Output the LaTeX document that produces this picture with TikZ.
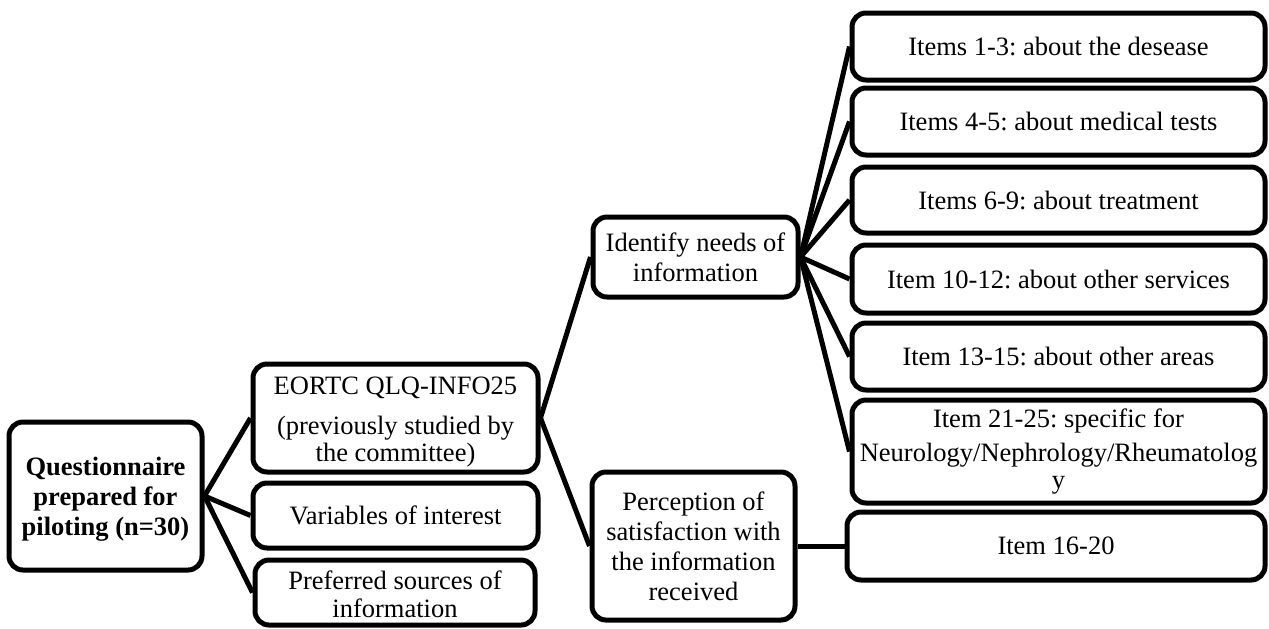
\documentclass[tikz,border=0pt]{standalone}
\usepackage{fontspec}
\setmainfont{Liberation Serif}
\usetikzlibrary{backgrounds}
\frenchspacing

\tikzset{
  box/.style={draw, fill=white, line width=2.5pt, rounded corners=7pt,
    inner sep=0pt, align=center, font=\fontsize{13.25pt}{15pt}\selectfont},
  link/.style={line width=2.5pt},
}

\begin{document}
\begin{tikzpicture}[x=0.5pt, y=-0.5pt]
  \useasboundingbox (0,0) rectangle (1269,628);

  % root
  \node[box, minimum width=96.5pt, minimum height=74pt,
        font=\fontsize{13.25pt}{15pt}\selectfont\bfseries] (root) at (105.5,496)
        {\rule{0pt}{12pt}Questionnaire\\prepared for\\piloting (n=30)};

  % second level
  \node[box, minimum width=142.5pt, minimum height=54pt] (eortc) at (395.5,418)
        {\rule{0pt}{13pt}EORTC QLQ-INFO25\\[5pt](previously studied by\\[-1.5pt]the committee)};
  \node[box, minimum width=142.5pt, minimum height=32.5pt] (vars) at (395.5,515.5)
        {Variables of interest};
  \node[box, minimum width=140pt, minimum height=32.5pt] (pref) at (395,592.5)
        {\rule{0pt}{11pt}Preferred sources of\\[-1pt]information};

  % third level
  \node[box, minimum width=102.5pt, minimum height=40pt] (need) at (695.5,257)
        {Identify needs of\\information};
  \node[box, minimum width=101.5pt, minimum height=74pt] (perc) at (693.5,546)
        {Perception of\\satisfaction with\\the information\\received};

  % items
  \node[box, minimum width=206.5pt, minimum height=33.5pt] (i1) at (1058.5,46.5)
        {Items 1-3: about the desease};
  \node[box, minimum width=206.5pt, minimum height=33.5pt] (i2) at (1058.5,121.5)
        {Items 4-5: about medical tests};
  \node[box, minimum width=206.5pt, minimum height=33pt] (i3) at (1058.5,200)
        {Items 6-9: about treatment};
  \node[box, minimum width=206.5pt, minimum height=34pt] (i4) at (1058.5,279)
        {Item 10-12: about other services};
  \node[box, minimum width=206.5pt, minimum height=33.5pt] (i5) at (1058.5,356.5)
        {Item 13-15: about other areas};
  \node[box, minimum width=206.5pt, minimum height=51.5pt] (i6) at (1058.5,451.5)
        {Item 21-25: specific for\\[2pt]Neurology/Nephrology/Rheumatolog\\[-1.5pt]y};
  \node[box, minimum width=209pt, minimum height=34pt] (i7) at (1056,546)
        {Item 16-20};

  % connectors
  \begin{scope}[on background layer]
    \draw[link] (root.east) -- (eortc.west);
    \draw[link] (root.east) -- (vars.west);
    \draw[link] (root.east) -- (pref.west);
    \draw[link] (eortc.east) -- (need.west);
    \draw[link] (eortc.east) -- (perc.west);
    \foreach \t in {i1,i2,i3,i4,i5,i6}
      \draw[link] (need.east) -- (\t.west);
    \draw[link] (perc.east) -- (i7.west);
  \end{scope}
\end{tikzpicture}
\end{document}
